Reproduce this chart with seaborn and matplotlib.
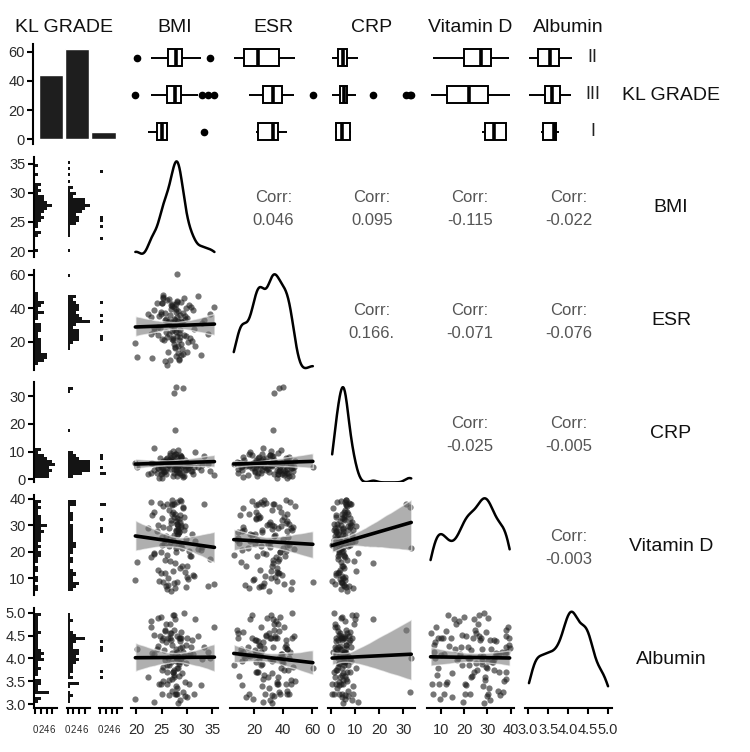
import numpy as np
import pandas as pd
import matplotlib
matplotlib.use("Agg")
import matplotlib.pyplot as plt
from matplotlib.collections import PolyCollection
from matplotlib.ticker import FormatStrFormatter
import seaborn as sns

sns.set_theme(style="white")
plt.rcParams["font.family"] = ["Liberation Sans", "DejaVu Sans"]

# ---- values (one entry per patient, same order in every list) ----
grade_levels = ["II", "III", "I"]
grade_counts = [44, 62, 5]

bmi_ii = [27.8, 24.6, 29.4, 26.2, 31.6, 28.1, 20.1, 27.3, 25.0, 28.9,
          30.2, 26.8, 23.4, 28.4, 27.0, 29.9, 25.8, 28.0, 32.8, 26.4,
          27.6, 34.6, 28.5, 24.2, 29.2, 27.1, 30.9, 26.0, 28.2, 22.9,
          27.9, 25.3, 29.0, 28.7, 26.6, 30.5, 27.5, 28.3, 31.3, 25.6,
          28.0, 27.4, 29.6, 23.0]
bmi_iii = [28.6, 25.3, 29.8, 24.8, 27.4, 31.2, 28.0, 25.9, 27.9, 33.0,
           26.7, 28.8, 19.8, 27.2, 29.3, 27.7, 28.4, 26.9, 30.4, 25.4,
           22.9, 28.9, 25.2, 29.1, 27.0, 24.2, 28.2, 35.4, 26.5, 27.6,
           30.0, 25.1, 28.7, 27.3, 23.5, 28.5, 26.0, 27.8, 29.5, 25.7,
           34.2, 28.1, 26.6, 30.8, 27.1, 24.5, 28.3, 29.0, 26.8, 27.5,
           23.4, 28.6, 25.6, 32.1, 27.9, 26.2, 29.7, 28.0, 24.9, 27.4,
           28.8, 26.4]
bmi_i = [25.0, 33.4, 24.0, 26.0, 22.2]

esr_ii = [37.8, 28.1, 46.2, 13.6, 17.5, 30.4, 10.7, 21.3, 43.0, 12.2,
          19.7, 39.5, 26.2, 8.9, 41.7, 14.1, 33.5, 23.4, 11.9, 45.3,
          16.8, 36.9, 9.8, 29.0, 12.6, 42.6, 20.5, 6.0, 38.3, 24.8,
          11.4, 47.9, 15.6, 31.2, 9.1, 22.0, 40.8, 13.0, 27.5, 8.3,
          44.1, 18.4, 35.6, 10.2]
esr_iii = [35.9, 47.0, 23.2, 38.1, 33.8, 39.0, 34.7, 26.1, 42.9, 31.3,
           36.2, 18.9, 19.5, 22.2, 24.0, 32.9, 25.2, 30.1, 41.8, 20.8,
           35.0, 32.2, 46.4, 37.0, 21.6, 23.8, 32.6, 40.7, 24.9, 16.4,
           34.2, 43.5, 26.9, 31.9, 28.3, 21.3, 45.2, 39.6, 33.5, 37.4,
           24.6, 60.5, 30.8, 41.1, 26.4, 35.5, 17.2, 32.1, 42.3, 29.4,
           38.9, 22.7, 33.0, 47.5, 25.8, 31.6, 40.2, 44.6, 36.8, 27.1,
           44.0, 32.4]
esr_i = [21.5, 33.0, 43.0, 23.0, 36.5]

crp_ii = [3.2, 7.5, 1.1, 5.4, 9.8, 2.6, 4.3, 6.8, 0.5, 8.1,
          3.9, 5.9, 11.2, 2.1, 6.3, 4.7, 1.8, 7.9, 3.5, 5.1,
          9.2, 2.9, 6.0, 4.1, 0.8, 7.2, 3.0, 5.6, 10.4, 2.4,
          4.9, 6.6, 1.5, 8.6, 3.7, 5.3, 2.2, 7.0, 4.5, 6.2,
          1.3, 8.9, 3.4, 5.7]
crp_iii = [5.5, 3.1, 6.2, 4.4, 31.2, 2.0, 5.8, 7.4, 3.6, 5.1,
           9.6, 4.0, 6.0, 1.2, 5.3, 17.6, 3.3, 6.7, 4.8, 2.7,
           5.7, 8.3, 4.2, 32.8, 6.4, 3.9, 5.0, 1.7, 7.1, 4.6,
           5.9, 2.4, 6.1, 10.3, 3.5, 5.4, 4.1, 33.3, 6.9, 2.9,
           5.6, 4.5, 8.8, 3.0, 6.3, 0.6, 5.2, 4.9, 7.7, 3.8,
           5.5, 2.2, 6.5, 4.3, 9.1, 5.1, 3.4, 6.0, 1.9, 4.7,
           7.9, 5.8]
crp_i = [4.5, 8.5, 2.2, 7.8, 1.8]

vitd_ii = [20.1, 38.2, 28.4, 7.5, 24.0, 30.6, 16.0, 35.1, 22.4, 29.5,
           9.8, 31.9, 19.6, 27.3, 39.4, 14.5, 25.8, 32.7, 20.7, 28.9,
           6.4, 17.2, 23.3, 30.1, 36.5, 34.4, 26.9, 19.0, 29.9, 38.9,
           27.8, 37.3, 21.5, 31.2, 25.1, 18.3, 33.0, 28.2, 11.1, 24.6,
           30.4, 26.5, 12.3, 33.8]
vitd_iii = [14.1, 29.3, 6.7, 19.8, 38.1, 11.4, 26.2, 7.3, 31.7, 21.9,
            16.5, 39.2, 9.5, 24.4, 33.1, 15.7, 27.6, 5.4, 20.3, 23.0,
            17.9, 30.2, 8.8, 36.8, 37.5, 13.3, 28.7, 7.8, 22.1, 34.2,
            10.6, 25.5, 39.6, 12.8, 19.2, 32.4, 6.1, 21.4, 29.8, 11.9,
            7.0, 8.5, 23.7, 18.6, 37.9, 9.1, 26.8, 14.8, 31.0, 22.8,
            35.0, 33.9, 17.0, 20.9, 28.1, 10.1, 24.9, 38.6, 12.2, 8.2,
            22.5, 35.6]
vitd_i = [32.7, 38.0, 27.7, 38.0, 29.0]

alb_ii = [3.22, 4.50, 5.00, 4.00, 4.85, 3.36, 4.20, 3.70, 3.22, 4.58,
          4.08, 3.92, 3.05, 4.45, 4.30, 3.15, 4.75, 3.98, 3.42, 3.52,
          3.22, 4.02, 3.62, 4.88, 4.15, 3.30, 4.40, 3.85, 3.80, 4.68,
          3.95, 3.50, 4.25, 3.10, 4.55, 4.10, 3.75, 4.05, 3.22, 4.62,
          3.22, 4.95, 3.48, 4.12]
alb_iii = [4.45, 3.82, 4.30, 4.90, 4.62, 4.10, 4.48, 4.35, 4.20, 3.98,
           4.75, 4.45, 3.12, 3.70, 4.05, 4.85, 3.88, 4.55, 3.45, 4.18,
           4.82, 3.95, 4.45, 3.28, 4.12, 4.28, 3.02, 4.68, 3.85, 4.08,
           4.45, 3.75, 4.22, 4.95, 4.52, 3.92, 3.45, 4.00, 3.18, 4.60,
           4.15, 3.80, 4.45, 4.25, 3.55, 3.45, 4.05, 3.68, 4.40, 3.60,
           4.10, 4.38, 3.96, 4.50, 3.40, 4.45, 3.90, 4.15, 3.45, 3.65,
           4.02, 3.20]
alb_i = [4.40, 4.25, 4.20, 3.70, 3.60]

# correlation labels printed in the upper triangle
corr_bmi = ["0.046", "0.095", "-0.115", "-0.022"]
corr_esr = ["0.166.", "-0.071", "-0.076"]
corr_crp = ["-0.025", "-0.005"]
corr_vitd = ["-0.003"]

count_ticks = [0, 20, 40, 60]
hist_ticks = [0, 2, 4, 6]
bmi_ticks = [20, 25, 30, 35]
esr_ticks = [20, 40, 60]
crp_ticks = [0, 10, 20, 30]
vitd_ticks = [10, 20, 30, 40]
alb_ticks = [3.0, 3.5, 4.0, 4.5, 5.0]

# ---- build the table ----
kl_grade = []
for lvl, n in zip(grade_levels, grade_counts):
    kl_grade += [lvl] * n

df = pd.DataFrame({
    "KL GRADE": kl_grade,
    "BMI": bmi_ii + bmi_iii + bmi_i,
    "ESR": esr_ii + esr_iii + esr_i,
    "CRP": crp_ii + crp_iii + crp_i,
    "Vitamin D": vitd_ii + vitd_iii + vitd_i,
    "Albumin": alb_ii + alb_iii + alb_i,
})

num_vars = ["BMI", "ESR", "CRP", "Vitamin D", "Albumin"]
var_ticks = dict(zip(num_vars, [bmi_ticks, esr_ticks, crp_ticks, vitd_ticks, alb_ticks]))
corr_rows = [corr_bmi, corr_esr, corr_crp, corr_vitd]

# ggplot-like limits: data range plus 5%
lims = {}
for v in num_vars:
    lo, hi = df[v].min(), df[v].max()
    pad = (hi - lo) * 0.05
    lims[v] = (lo - pad, hi + pad)

# ---- layout (pixels) ----
W, H = 750, 752
col_left = [33 + i * 98.4 for i in range(6)]
col_w = 87
row_top = [44 + i * 112.8 for i in range(6)]
row_h = 100
sub_left = [34, 66.5, 99]
sub_w = 23

fig = plt.figure(figsize=(W / 100, H / 100), dpi=100)


def add_px(x0, y0, w, h):
    return fig.add_axes([x0 / W, 1 - (y0 + h) / H, w / W, h / H])


def style(ax, left=False, bottom=False):
    for s in ["top", "right"]:
        ax.spines[s].set_visible(False)
    for s, on in [("left", left), ("bottom", bottom)]:
        ax.spines[s].set_visible(on)
        ax.spines[s].set_linewidth(1.5)
        ax.spines[s].set_color("black")
    ax.tick_params(left=left, bottom=bottom, labelleft=left, labelbottom=bottom,
                   length=4, width=1.5, color="black", labelsize=10.5,
                   labelcolor="#2a2a2a")
    ax.tick_params(axis="x", pad=7)
    ax.tick_params(axis="y", pad=2)
    ax.set_xlabel("")
    ax.set_ylabel("")
    ax.set_facecolor("none")
    ax.grid(False)


# top-left: bar chart of KL GRADE
ax = add_px(col_left[0], row_top[0], col_w, row_h)
sns.countplot(data=df, x="KL GRADE", order=grade_levels, color="#1e1e1e",
              width=0.92, saturation=1, ax=ax)
ax.set_xlim(-0.67, 2.63)
ax.set_ylim(-0.05 * max(grade_counts), 1.05 * max(grade_counts) + 0.2)
ax.set_yticks(count_ticks)
style(ax, left=True)

# top row: box plots by grade
for j, v in enumerate(num_vars):
    ax = add_px(col_left[j + 1], row_top[0], col_w, row_h)
    sns.boxplot(data=df, x=v, y="KL GRADE", order=grade_levels, orient="h",
                width=0.45, color="white", linecolor="black", linewidth=1.4,
                showcaps=False, fliersize=4.5,
                flierprops=dict(marker="o", markerfacecolor="black", markeredgecolor="black"),
                medianprops=dict(linewidth=2.6), ax=ax)
    if v == "Albumin":
        ax.set_xlim(2.86, 6.82)
        for k, lvl in enumerate(grade_levels):
            ax.text(0.78, k, lvl, transform=ax.get_yaxis_transform(),
                    ha="center", va="center", fontsize=13, color="#222222")
    else:
        ax.set_xlim(lims[v])
    ax.set_ylim(2.33, -0.37)
    style(ax)

# first column: horizontal histograms faceted by grade
for i, v in enumerate(num_vars):
    r = i + 1
    for k, lvl in enumerate(grade_levels):
        ax = add_px(sub_left[k], row_top[r], sub_w, row_h)
        sns.histplot(y=df.loc[df["KL GRADE"] == lvl, v], bins=30,
                     binrange=(df[v].min(), df[v].max()), color="#141414",
                     edgecolor="none", linewidth=0, alpha=1, ax=ax)
        ax.set_ylim(lims[v])
        ax.set_xlim(-0.35, 7.6)
        style(ax, left=(k == 0), bottom=(r == 5))
        ax.set_xticks(hist_ticks)
        ax.set_yticks(var_ticks[v])
        if v == "Albumin":
            ax.yaxis.set_major_formatter(FormatStrFormatter("%.1f"))
        ax.tick_params(axis="x", labelsize=7, pad=8)

# the 5 x 5 block: scatter + fit, densities, correlations
for i, yv in enumerate(num_vars):
    for j, xv in enumerate(num_vars):
        ax = add_px(col_left[j + 1], row_top[i + 1], col_w, row_h)
        if j < i:
            sns.regplot(data=df, x=xv, y=yv, ax=ax, seed=3,
                        scatter_kws=dict(s=20, color="#1a1a1a", alpha=0.6, linewidths=0),
                        line_kws=dict(color="black", lw=2.6))
            for coll in ax.collections:
                if isinstance(coll, PolyCollection):
                    coll.set_facecolor("#7a7a7a")
                    coll.set_alpha(0.6)
            ax.set_xlim(lims[xv])
            ax.set_ylim(lims[yv])
        elif j == i:
            sns.kdeplot(data=df, x=xv, color="black", linewidth=1.8, cut=0,
                        bw_adjust=0.72, ax=ax)
            ax.set_xlim(lims[xv])
            top = ax.get_ylim()[1]
            ax.set_ylim(0, top)
        else:
            ax.set_xlim(0, 1)
            ax.set_ylim(0, 1)
            label = corr_rows[i][j - i - 1]
            ax.text(0.5, 0.59, "Corr:", ha="center", va="center", fontsize=12,
                    color="#555555", transform=ax.transAxes)
            ax.text(0.5, 0.36, label, ha="center", va="center", fontsize=12,
                    color="#555555", transform=ax.transAxes)
        style(ax, bottom=(i == 4))
        if i == 4:
            ax.set_xticks(var_ticks[xv])
            if xv == "Albumin":
                ax.xaxis.set_major_formatter(FormatStrFormatter("%.1f"))

# strip labels
col_names = ["KL GRADE"] + num_vars
col_centers = [64] + [c + col_w / 2 for c in col_left[1:]]
for name, xc in zip(col_names, col_centers):
    fig.text(xc / W, 1 - 27 / H, name, ha="center", va="center",
             fontsize=14, color="#111111")
for r, name in enumerate(col_names):
    fig.text(671 / W, 1 - (row_top[r] + row_h / 2 + 1) / H, name, ha="center",
             va="center", fontsize=14, color="#111111")

fig.savefig("out.png", dpi=100, facecolor="white")
